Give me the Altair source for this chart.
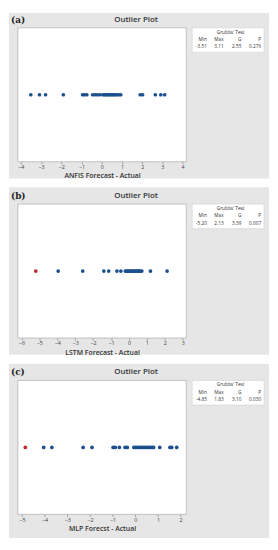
import altair as alt
import pandas as pd

# ---------------- data ----------------
a_vals = [-3.51, -3.08, -2.78, -1.90, -0.95, -0.85, -0.74, -0.45, -0.33, -0.22, -0.10,
          0.05, 0.12, 0.19, 0.26, 0.33, 0.40, 0.47, 0.54, 0.61, 0.68, 0.75, 0.84, 0.94,
          1.90, 2.02, 2.65, 2.92, 3.11]
a_out = [0] * len(a_vals)
a_ticks = [-4, -3, -2, -1, 0, 1, 2, 3, 4]
a_stats = ["-3.51", "3.11", "2.55", "0.276"]

b_vals = [-5.20, -3.95, -2.58, -1.40, -1.13, -0.67, -0.45,
          -0.20, -0.14, -0.08, -0.02, 0.04, 0.10, 0.16, 0.22, 0.28, 0.34, 0.40,
          0.46, 0.52, 0.58, 0.64, 0.72, 1.20, 2.13]
b_out = [1] + [0] * (len(b_vals) - 1)
b_ticks = [-6, -5, -4, -3, -2, -1, 0, 1, 2, 3]
b_stats = ["-5.20", "2.13", "3.39", "0.007"]

c_vals = [-4.85, -4.04, -3.68, -2.30, -1.91, -0.98, -0.88, -0.70, -0.45, -0.35,
          -0.06, 0.02, 0.10, 0.18, 0.26, 0.34, 0.42, 0.50, 0.58, 0.66, 0.74, 0.81,
          1.08, 1.53, 1.61, 1.83]
c_out = [1] + [0] * (len(c_vals) - 1)
c_ticks = [-5, -4, -3, -2, -1, 0, 1, 2]
c_stats = ["-4.85", "1.83", "3.10", "0.030"]

# ---------------- style ----------------
W, H = 171, 136
GRAY = "#e6e6e6"
BLUE = "#1b4f8e"
RED = "#c1272d"
FONT = "Open Sans"
one = pd.DataFrame({"d": [0]})


def txt(s, x, y, size=5.0, align="center", weight="normal", font=FONT, color="#333"):
    return alt.Chart(one).mark_text(
        text=s, fontSize=size, align=align, baseline="middle",
        fontWeight=weight, font=font, color=color
    ).encode(x=alt.value(x), y=alt.value(y))


def panel(label, vals, outs, domain, ticks, xtitle, stats, top, bottom):
    df = pd.DataFrame({"v": vals, "out": outs, "row": ["r"] * len(vals)})
    gray = alt.Chart(one).mark_rect(color=GRAY).encode(
        x=alt.value(-9), x2=alt.value(255), y=alt.value(-top), y2=alt.value(H + bottom))
    white = alt.Chart(one).mark_rect(fill="white", stroke="#b5b5b5", strokeWidth=0.8).encode(
        x=alt.value(0), x2=alt.value(W), y=alt.value(0), y2=alt.value(H))
    pts = alt.Chart(df).mark_circle(size=14, opacity=1).encode(
        x=alt.X("v:Q",
                scale=alt.Scale(domain=domain, nice=False, zero=False),
                axis=alt.Axis(values=ticks, title=xtitle, format="d", zindex=1,
                              grid=False, domain=False, tickSize=2, tickColor="#999",
                              labelFontSize=5.5, labelFont=FONT, labelColor="#444",
                              labelPadding=1, titleFontSize=7, titleFont=FONT,
                              titleFontWeight=600, titleColor="#333", titlePadding=2)),
        y=alt.Y("row:N", axis=None),
        color=alt.Color("out:N", scale=alt.Scale(domain=[0, 1], range=[BLUE, RED]), legend=None),
    )
    box = alt.Chart(one).mark_rect(fill="white", stroke="#cfcfcf", strokeWidth=0.6).encode(
        x=alt.value(177), x2=alt.value(250), y=alt.value(0), y2=alt.value(25))
    layers = [gray, white, pts, box,
              txt("Outlier Plot", 120, -8, size=8, weight=600),
              txt(label, -7, -8, size=9, align="left", weight="bold", font="DejaVu Serif", color="#222"),
              txt("Grubbs' Test", 216, 5, size=4.8)]
    cols = [192, 209, 227, 247]
    for hdr, val, cx in zip(["Min", "Max", "G", "P"], stats, cols):
        layers.append(txt(hdr, cx, 12.5, size=4.8, align="right"))
        layers.append(txt(val, cx, 20, size=4.8, align="right"))
    return alt.layer(*layers).properties(width=W, height=H)


pa = panel("(a)", a_vals, a_out, [-4.15, 4.18], a_ticks, "ANFIS Forecast - Actual", a_stats, 15, 17)
pb = panel("(b)", b_vals, b_out, [-6.2, 3.2], b_ticks, "LSTM Forecast - Actual", b_stats, 17, 17)
pc = panel("(c)", c_vals, c_out, [-5.18, 2.25], c_ticks, "MLP Forecst - Actual", c_stats, 17, 24)

chart = alt.vconcat(pa, pb, pc, spacing=7, padding=0).configure_view(stroke=None).configure(background="white")

chart.save("out.html", embed_options={"renderer": "svg", "actions": False})
